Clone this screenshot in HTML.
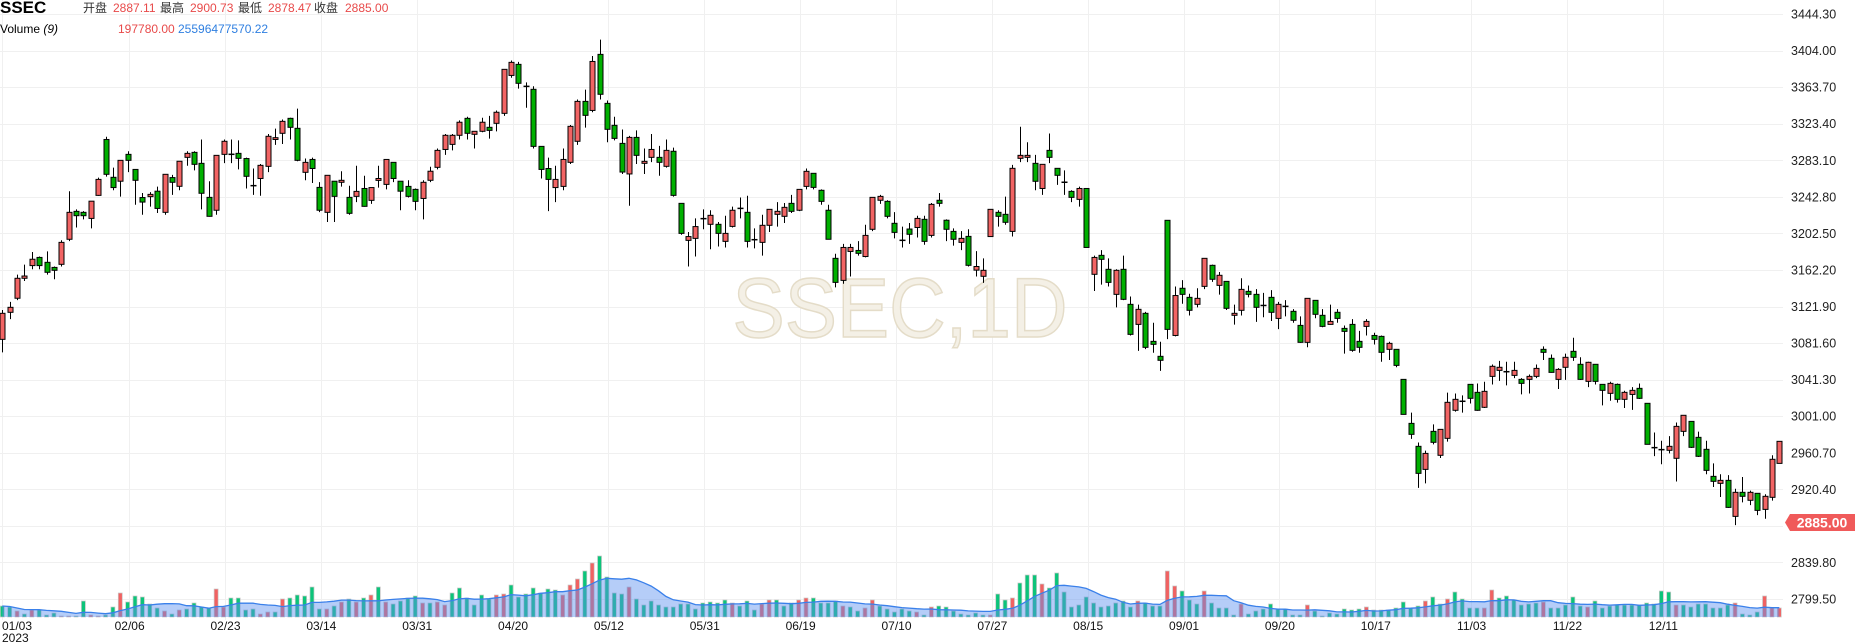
<!DOCTYPE html>
<html><head><meta charset="utf-8"><style>
html,body{margin:0;padding:0;background:#fff;}
svg{display:block;font-family:"Liberation Sans","Noto Sans CJK SC",sans-serif;}
</style></head><body>
<svg id="chart" width="1855" height="644" viewBox="0 0 1855 644" xmlns="http://www.w3.org/2000/svg">
<g id="grid"></g>
<text x="900" y="337" text-anchor="middle" font-size="84" textLength="335" lengthAdjust="spacingAndGlyphs" fill="#f4f0e6" stroke="#e4dcc8" stroke-width="1.5">SSEC,1D</text>
<g id="volume"></g>
<g id="candles"></g>
<g id="axis"></g>
<g id="xaxis"></g>
<g font-size="12">
<text x="0" y="13" font-size="17" font-weight="bold" fill="#000">SSEC</text>
<text x="83" y="12" fill="#333">开盘</text>
<text x="113" y="12" fill="#e84a4a">2887.11</text>
<text x="160" y="12" fill="#333">最高</text>
<text x="190" y="12" fill="#e84a4a">2900.73</text>
<text x="238" y="12" fill="#333">最低</text>
<text x="268" y="12" fill="#e84a4a">2878.47</text>
<text x="314" y="12" fill="#333">收盘</text>
<text x="345" y="12" fill="#e84a4a">2885.00</text>
<text x="0" y="33" fill="#000">Volume <tspan font-style="italic">(9)</tspan></text>
<text x="118" y="33" fill="#e84a4a">197780.00</text>
<text x="178" y="33" fill="#2f7fe0">25596477570.22</text>
</g>
<g>
<polygon points="1785,522.5 1790,514 1855,514 1855,531 1790,531" fill="#f05a5a"/>
<text x="1822" y="527.5" text-anchor="middle" font-size="14" font-weight="bold" fill="#fff">2885.00</text>
</g>
</svg>
<script>
const opens=[3085.7,3115.5,3131,3153,3167,3176,3170.6,3165,3168.4,3196,3226.8,3225.7,3219,3244.4,3306,3264.3,3260,3289.6,3273,3242,3243,3249,3225.7,3264,3254.4,3286.3,3291.8,3279.7,3242.2,3228,3289.6,3289.7,3290.7,3285,3255,3263,3276.4,3306,3312.8,3329.3,3318.3,
3269.8,3284,3253.2,3225.7,3260,3258.8,3242.2,3243.3,3252,3238.9,3260.9,3256.5,3280.8,3260,3254.3,3251,3241,3261,3275.3,3295,3300.6,3310.6,3329.3,3311.7,3315,3319.4,3323.8,3334.8,3376.6,3388.8,3364.6,3361.3,3298.4,3274,3253,3254.3,3280.8,3304,3348,3338,3399.8,
3345.8,3321.6,3301.7,3268,3308.3,3279.7,3286.3,3286.3,3276.4,3293,3235.6,3194.8,3197,3218.7,3212.5,3212.5,3193.7,3210.2,3230,3225.7,3195.5,3192.6,3211.4,3223.5,3221.3,3235.6,3228,3254.3,3268.7,3250,3228,3175,3150.7,3182.6,3183.7,3177,3207,3239,3237.8,3213.6,
3194.8,3207.3,3209,3218,3200.3,3239,3217,3204.7,3192.6,3199.2,3162,3155.2,3199,3225.7,3223.5,3204.7,3285.2,3286.3,3279.7,3252,3294,3274.2,3258.8,3248.8,3240,3252,3157.4,3178.3,3162.9,3135.3,3162.9,3124.3,3102.2,3114.4,3083.5,3067,3216.9,3090,3142,3132,
3124.3,3144.1,3167.3,3145.2,3149.6,3112.2,3117.7,3138.6,3135.3,3123,3132,3108.8,3122,3116.6,3101.1,3082.4,3128.7,3112.2,3102.2,3115.5,3097.8,3102.2,3083.5,3100,3090,3089,3074.7,3074.7,3041.6,2993.1,2967.8,2942.4,2984.3,2957.9,2976.6,3007.5,3017.4,3036.1,3027.3,3010.8,
3044.9,3051.5,3050,3046,3041.6,3041.6,3044.9,3074.7,3064.8,3041.6,3054.9,3072.5,3058.2,3039.4,3058.2,3036.1,3026.2,3036.1,3019.6,3025,3031.7,3015.2,2966.3,2964.1,2963.4,2954.6,2984.3,2995.3,2977.7,2964.5,2934.7,2927,2930.3,2890.6,2917.1,2908.3,2916,2898.3,2911.6,2949];
const highs=[3118,3127,3157,3168,3182,3177,3182.7,3166,3195,3249,3229,3227,3238,3264,3309,3275,3283,3293,3273,3247,3248,3254,3267.6,3267,3282,3293,3293,3306,3260,3288.5,3306,3306,3305,3286,3274,3279,3312,3318,3328,3330,3340,
3285,3286,3259,3266.5,3260,3271,3255,3277,3266,3253,3277,3284,3281,3260,3261,3252,3261,3276,3296,3312,3312,3327,3331,3315,3330,3332,3338,3383.3,3393,3391.6,3369,3364.6,3298,3286,3277,3296,3322,3350,3361,3398,3416,
3349,3331,3317,3310,3316,3296,3312,3299,3306,3297,3236,3204,3219,3229,3228,3215,3222,3232,3242,3244,3208,3223,3229,3237,3236,3245,3251,3274,3269,3251,3234,3180,3191,3191,3194,3212,3242.2,3245,3239,3226,
3210,3214,3222,3222,3236,3247,3218,3208,3205,3207,3183,3175,3229,3228,3243,3278,3320,3303,3289,3278.6,3312.6,3274,3272,3250,3254,3252,3178,3184,3175,3163,3178,3133,3124,3116,3104,3083,3216.9,3144,3151,3136,
3142,3175,3168,3160,3150,3124,3153,3145,3141,3137,3140,3127,3129,3119,3111,3131,3129,3119,3124,3119,3101,3108,3095,3108,3093,3090,3083,3075,3042,3005,2972,2963,2992,2986.5,3027,3026,3024,3036,3037,3039,
3058,3062,3061,3061,3043,3047,3058,3078,3069,3054,3070,3087.5,3066,3061,3058,3036,3039,3037,3029,3033,3037,3015,2983,2974,2979,2994,3002,2995,2984,2974,2949,2937,2936,2921,2934,2919,2916,2915,2958,2973.3];
const lows=[3071.4,3108,3129,3150,3163,3163,3157,3152,3166,3194,3209,3218,3208,3244,3265,3250,3243,3270,3234,3223,3232,3225,3223,3245,3250,3277,3272,3229,3221,3223,3280,3280,3273,3252,3245,3244,3270,3300,3301,3306,3282,
3261,3258,3226,3215,3215,3254,3223,3237,3232,3235,3253,3251,3259,3228,3242,3228,3218,3259,3273,3289,3294,3306,3306,3296,3314,3307,3315,3332,3374,3362,3341,3296,3263,3227,3237,3250,3279,3300,3319,3336,3350,
3303,3305,3268,3233,3279,3268,3281,3266,3275,3243,3201,3166,3177,3207,3185,3188,3187,3209,3219,3187,3186,3178,3204,3210,3214,3225,3227,3251,3251,3234,3196,3143,3147,3155,3178,3176,3205,3235,3219,3197,
3187,3191,3198,3190,3198,3232,3194,3189,3184,3166,3155,3148,3199,3210,3212,3199,3281,3281,3250,3245,3280,3256,3245,3237,3232,3187,3139,3146,3144,3121,3129,3090,3073,3075,3071,3051,3086,3089,3125,3112,
3121,3141,3149,3135,3118,3102,3112,3132,3105,3110,3106,3097,3111,3104,3082,3077,3109,3099,3102,3104,3070,3072,3071,3090,3080,3061,3063,3055,3003,2976,2922,2927,2970,2955,2973,3006,3005,3015,3007,3010,
3036,3040,3035,3043,3025,3026,3043,3063,3049,3031,3041,3062,3041,3033,3036,3013,3018,3016,3010,3008,3020,2970,2957,2948,2960,2929,2979,2966,2956,2937,2923,2912,2900,2881,2906,2903,2892,2888,2908,2949];
const closes=[3114.4,3121,3153,3155.5,3174,3167,3159.6,3161.8,3192.6,3225.7,3222,3222,3238,3262,3267.6,3253,3283,3283,3261,3237,3245.5,3230,3267.6,3258.8,3282,3290.7,3278.6,3246.7,3221.3,3288.5,3304,3289.6,3285.2,3265.4,3255.2,3277.5,3309.5,3308,3326,3319.4,3283,
3280.8,3274,3228,3266.5,3243.3,3261,3224.6,3248.8,3232.3,3253,3263,3284,3263,3249,3243.3,3237.8,3258.8,3271,3294,3310.6,3310.6,3325,3312.8,3315,3325,3316,3336,3383.3,3391,3367.9,3364.5,3298.4,3273,3262,3262,3284,3320.5,3348,3332.6,3392,3355.8,
3317.2,3307.2,3270.1,3308.3,3288.5,3281.9,3295,3280.8,3294,3244.4,3202.5,3199,3210,3218.8,3222.4,3202.5,3202.5,3228,3230.1,3193.7,3195.6,3211.4,3229,3226.8,3231.2,3226.8,3251,3270.9,3253.2,3237.8,3196,3148.5,3187,3187,3180.5,3200.3,3242.2,3243.3,3221.3,3203.6,
3194.9,3201.5,3219,3193.7,3234.5,3235.6,3207,3196,3197,3167.3,3166,3161.8,3229,3221.3,3214.7,3274.2,3288.5,3288.5,3259.9,3278.6,3286.3,3266.5,3258.9,3242.2,3252,3187,3176,3173.9,3148.5,3161.8,3129.8,3091.2,3118.8,3076.9,3080.2,3062.6,3096.7,3134,3135.3,3117.7,
3130.9,3175,3151.9,3156.3,3119.9,3114.4,3140.8,3135.3,3121,3123.1,3115.5,3124.3,3122.1,3106.7,3082.4,3130.9,3113.3,3100,3105.5,3108.8,3094.5,3073.6,3076.9,3105.5,3085.7,3071.4,3081.3,3057,3003,2981,2938,2960,2972.2,2986.5,3016.3,3019.6,3017.5,3020.7,3007.5,3028.4,
3056,3054.9,3050.1,3051.5,3037.2,3044.9,3053.7,3071.4,3049.3,3052.6,3065.9,3065.9,3041.6,3060.4,3039.4,3029.5,3037.2,3019.6,3027.3,3029.5,3020.7,2970,2966.4,2964.2,2967.8,2989.8,3002,2966.7,2956.8,2941.3,2929.2,2930.3,2900.5,2917.1,2912.7,2917.1,2897.2,2912.7,2953.5,2973.3];
const volumes=[110,100,60,30,70,70,20,40,10,10,10,160,20,10,20,100,240,150,210,200,
130,90,60,30,70,80,140,100,90,280,100,190,190,70,80,30,50,50,180,190,
220,210,300,80,80,110,150,180,150,190,220,300,150,130,160,190,210,140,140,150,
120,240,290,190,120,220,180,220,230,320,200,230,290,240,280,270,220,320,380,460,
540,610,400,240,230,300,180,120,160,120,100,100,130,130,80,140,150,140,170,140,
110,160,70,130,170,170,110,140,170,190,190,140,140,160,110,100,60,90,170,110,
80,50,80,60,50,20,100,110,100,60,30,20,40,20,20,230,170,190,340,420,
420,330,290,440,250,100,120,200,140,100,110,140,160,100,160,140,110,110,460,310,
260,170,130,260,140,90,90,20,130,30,60,80,130,80,80,20,20,120,60,10,
40,30,80,70,80,100,70,70,70,90,150,90,110,160,200,130,180,250,180,90,
90,90,270,190,210,170,120,130,140,150,90,90,120,200,110,100,160,90,110,120,
120,120,120,140,130,260,250,120,120,100,130,130,90,90,120,140,30,20,50,210,90,90];
const priceTicks=["3444.30","3404.00","3363.70","3323.40","3283.10","3242.80","3202.50","3162.20","3121.90","3081.60","3041.30","3001.00","2960.70","2920.40","2880.10","2839.80","2799.50"];
const dateLabels=["02/06","02/23","03/14","03/31","04/20","05/12","05/31","06/19","07/10","07/27","08/15","09/01","09/20","10/17","11/03","11/22","12/11"];
const dateIndex=[17,30,43,56,69,82,95,108,121,134,147,160,173,186,199,212,225];

const NS="http://www.w3.org/2000/svg";
const PLOT_R=1783, X0=2.3, STEP=(1779.3-2.3)/241;
const yScale=p=>14+(3444.3-p)*0.9073;
const xScale=i=>X0+i*STEP;
const vMax=Math.max(...volumes);
const VBASE=617, VH=61;
const vScale=v=>VBASE-v/vMax*VH;
function mk(tag,attrs,parent){const e=document.createElementNS(NS,tag);for(const k in attrs)e.setAttribute(k,attrs[k]);parent.appendChild(e);return e;}

const grid=document.getElementById('grid');
priceTicks.forEach(t=>{
  const y=Math.round(yScale(parseFloat(t)))+0.5;
  const l=mk('line',{x1:0,x2:PLOT_R,y1:y,y2:y,stroke:'#f0f0f0','stroke-width':1},grid);
  
  
});
const vl0=mk('line',{x1:2.5,x2:2.5,y1:0,y2:620,stroke:'#f0f0f0'},grid);


dateIndex.forEach(i=>{
  const x=Math.round(xScale(i)+1.5)+0.5;
  const l=mk('line',{x1:x,x2:x,y1:0,y2:620,stroke:'#f0f0f0'},grid);
  
  
});

// volume
const vg=document.getElementById('volume');
volumes.forEach((v,i)=>{
  const up=i===0?true:closes[i]<=closes[i-1]+15;
  const x=xScale(i)-2, y=vScale(v);
  const r=mk('rect',{x:x,y:y,width:4,height:Math.max(VBASE-y,0.5),fill:up?'#0cc47a':'#f06262',stroke:'#c8c8c8','stroke-width':0.7},vg);
  
  
});
const ma=volumes.map((v,i)=>{const s=volumes.slice(Math.max(0,i-8),i+1);return s.reduce((a,b)=>a+b,0)/s.length;});
let pts=ma.map((m,i)=>xScale(i).toFixed(1)+','+vScale(m).toFixed(1));
const area=mk('path',{d:'M'+xScale(0)+','+VBASE+' L'+pts.join(' L')+' L'+xScale(241)+','+VBASE+' Z',fill:'rgba(90,145,240,0.45)'},vg);


const mline=mk('path',{d:'M'+pts.join(' L'),fill:'none',stroke:'#3a80ea','stroke-width':1.3},vg);



// candles
const cg=document.getElementById('candles');
opens.forEach((o,i)=>{
  const c=closes[i],h=highs[i],l=lows[i];
  const x=Math.round(xScale(i))+0.5;
  const g=mk('g',{},cg);
  
  
  mk('line',{x1:x,x2:x,y1:yScale(h),y2:yScale(l),stroke:'#000','stroke-width':1},g);
  const top=yScale(Math.max(o,c)),bot=yScale(Math.min(o,c));
  const hgt=bot-top;
  if(hgt<1.5){
    mk('rect',{x:x-3,y:(top+bot)/2-0.75,width:6,height:1.5,fill:'#000'},g);
  } else {
    mk('rect',{x:x-2.5,y:top,width:5,height:hgt,fill:c>o?'#f26464':'#00b000',stroke:'#000','stroke-width':1},g);
  }
});

// price axis
const ax=document.getElementById('axis');
priceTicks.forEach(t=>{
  if(t==="2880.10")return;
  const y=yScale(parseFloat(t));
  const tx=mk('text',{x:1791,y:y+4.5,'font-size':12.5,fill:'#222'},ax);
  tx.textContent=t;
  
  
});

// date axis
const xa=document.getElementById('xaxis');
const f=mk('text',{x:2,y:630,'font-size':12,fill:'#111'},xa);
f.textContent='01/03';


const yr=mk('text',{x:2,y:642,'font-size':12,fill:'#111'},xa);
yr.textContent='2023';


dateLabels.forEach((d,k)=>{
  const t=mk('text',{x:xScale(dateIndex[k])+2,y:630,'font-size':12,fill:'#111','text-anchor':'middle'},xa);
  t.textContent=d;
  
  
});
</script>
</body></html>
